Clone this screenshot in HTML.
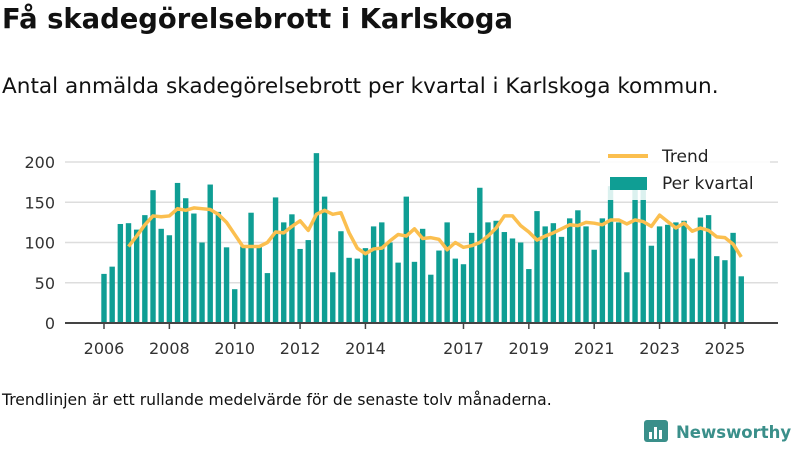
<!DOCTYPE html>
<html><head><meta charset="utf-8"><style>
body{margin:0;width:800px;height:450px;background:#fff;font-family:"DejaVu Sans","Liberation Sans",sans-serif;overflow:hidden;position:relative;color:#111}
#title{position:absolute;left:2px;top:4px;font-size:27.4px;font-weight:bold;margin:0}
#sub{position:absolute;left:2px;top:74px;font-size:21.6px}
#note{position:absolute;left:2px;top:391px;font-size:15.6px}
#logo{position:absolute;left:644px;top:420px;font-size:16.5px;font-weight:bold;color:#3a8f8a;display:flex;align-items:center;gap:8px;white-space:nowrap}
</style></head><body>
<h1 id="title">Få skadegörelsebrott i Karlskoga</h1>
<div id="sub">Antal anmälda skadegörelsebrott per kvartal i Karlskoga kommun.</div>
<svg id="chart" width="800" height="450" style="position:absolute;left:0;top:0"></svg>
<div id="note">Trendlinjen är ett rullande medelvärde för de senaste tolv månaderna.</div>
<div id="logo"><svg width="24" height="24"><rect x="0" y="0" width="24" height="22" rx="3" fill="#3a8f8a"/><rect x="5" y="12" width="3" height="7" fill="#fff"/><rect x="10" y="7" width="3" height="12" fill="#fff"/><rect x="15" y="10" width="3" height="9" fill="#fff"/></svg><span>Newsworthy</span></div>
<script>
const values=[61,70,123,124,116,134,165,117,109,174,155,136,100,172,138,94,42,95,137,95,62,156,125,135,92,103,211,157,63,114,81,80,93,120,125,100,75,157,76,117,60,90,125,80,73,112,168,125,127,113,105,100,67,139,120,124,107,130,140,120,91,130,170,125,63,170,170,96,120,122,125,127,80,131,134,83,78,112,58];
const trend=[null,null,null,95,108,122,133,132,133,142,140,143,142,141,135,125,110,95,95,95,100,113,112,120,127,115,135,140,135,137,112,93,86,92,93,102,110,108,117,105,106,104,91,100,94,96,100,108,118,133,133,121,113,103,108,112,117,122,121,125,124,122,128,128,123,128,126,120,134,126,118,124,114,118,115,107,106,98,82];
const yTicks=[0,50,100,150,200];
const xTickYears=[2006,2008,2010,2012,2014,2017,2019,2021,2023,2025];
const svg=document.getElementById('chart');const NS='http://www.w3.org/2000/svg';
const x0=104,qw=8.17,y0=323,ys=0.805;
const X=i=>x0+i*qw, Y=v=>y0-v*ys, XY=yr=>x0+(yr-2006)*4*qw;
function el(t,a,p){const e=document.createElementNS(NS,t);for(const k in a)e.setAttribute(k,a[k]);(p||svg).appendChild(e);return e;}
yTicks.forEach(v=>{const g=el('line',{x1:65,x2:778,y1:Y(v),y2:Y(v),stroke:'#ddd','stroke-width':1.5});


const t=el('text',{x:55,y:Y(v)+6,'text-anchor':'end','font-size':16,fill:'#333'});t.textContent=v;

});
values.forEach((v,i)=>{const r=el('rect',{x:X(i)-2.7,y:Y(v),width:5.4,height:v*ys,fill:'#0f9e94'});

});
let d='';trend.forEach((v,i)=>{if(v==null)return;d+=(d?'L':'M')+X(i)+' '+Y(v);});
const p=el('path',{d:d,fill:'none',stroke:'#fbbf4f','stroke-width':3.5,'stroke-linejoin':'round'});


const ax=el('line',{x1:65,x2:778,y1:y0,y2:y0,stroke:'#444','stroke-width':2});


xTickYears.forEach(yr=>{const x=XY(yr);el('line',{x1:x,x2:x,y1:y0,y2:y0+6,stroke:'#444','stroke-width':1.5});
const t=el('text',{x:x,y:354,'text-anchor':'middle','font-size':16,fill:'#333'});t.textContent=yr;

});
const lg=el('g',{});

el('rect',{x:600,y:140,width:170,height:60,fill:'#fff','fill-opacity':0.85},lg);
el('line',{x1:608,x2:648,y1:156,y2:156,stroke:'#fbbf4f','stroke-width':4},lg);
const t1=el('text',{x:662,y:162,'font-size':17,fill:'#222'},lg);t1.textContent='Trend';
el('rect',{x:610,y:177,width:37,height:13,fill:'#0f9e94'},lg);
const t2=el('text',{x:662,y:189,'font-size':17,fill:'#222'},lg);t2.textContent='Per kvartal';
</script>
</body></html>
